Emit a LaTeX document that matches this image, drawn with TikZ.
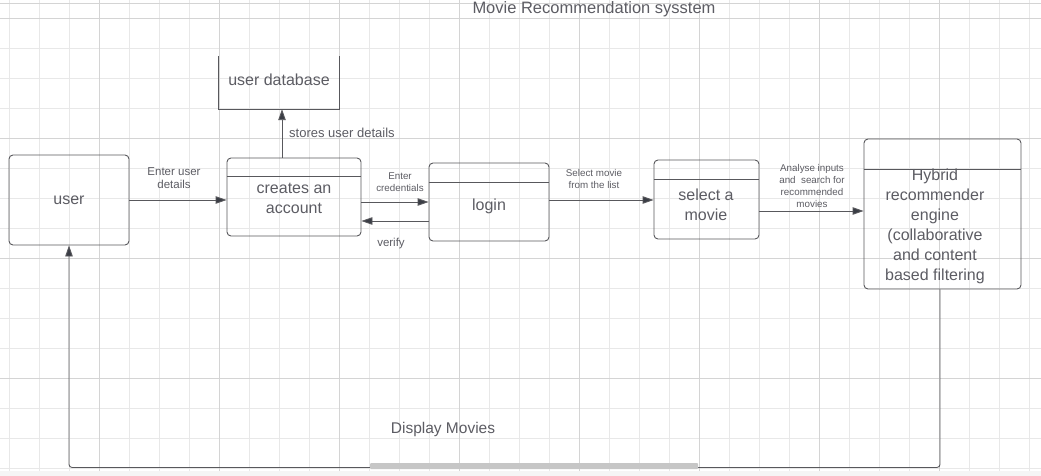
\documentclass[tikz,border=0pt]{standalone}
\usepackage{fontspec}
\setmainfont{Liberation Sans}
\definecolor{GridMinor}{RGB}{232,232,232}
\definecolor{GridMajor}{RGB}{212,212,212}
\definecolor{BoxLine}{RGB}{88,88,92}
\definecolor{TextGray}{RGB}{92,92,99}
\definecolor{TipDark}{RGB}{58,61,69}
\usetikzlibrary{arrows.meta,positioning,calc}
\newcommand{\bigtxt}{\fontsize{16}{20}\selectfont}
\newcommand{\midtxt}{\fontsize{11.5}{13}\selectfont}
\newcommand{\tinytxt}{\fontsize{9.8}{12}\selectfont}
\tikzset{
  boxnode/.style={draw=BoxLine,line width=0.9pt,rounded corners=4pt,inner sep=0pt},
  hdrline/.style={draw=BoxLine,line width=0.9pt},
  flow/.style={draw=BoxLine,line width=0.9pt,-{Triangle[length=11pt,width=7.5pt,fill=TipDark]}},
  lbl/.style={text=TextGray,inner sep=0pt,align=center}
}
\begin{document}
\begin{tikzpicture}[x=1pt,y=-1pt]
\useasboundingbox (0,0) rectangle (1041,476);
% grid
\foreach \x in {9,39,...,1029} \draw[GridMinor,line width=0.6pt] (\x,0) -- (\x,476);
\foreach \y in {18,48,...,468} \draw[GridMinor,line width=0.6pt] (0,\y) -- (1041,\y);
\foreach \x in {99,219,...,939} \draw[GridMajor,line width=0.6pt] (\x,0) -- (\x,476);
\foreach \y in {18,138,258,378} \draw[GridMajor,line width=0.6pt] (0,\y) -- (1041,\y);
\draw[GridMajor,line width=0.6pt] (0,3) -- (1041,3);
% title
\node[lbl,font=\fontsize{16.5}{20}\selectfont] (title) at (594,9) {Movie Recommendation sysstem};
% boxes
\node[boxnode,minimum width=120pt,minimum height=90pt] (user) at (69,200) {};
\node[minimum width=120pt,minimum height=53pt,inner sep=0pt] (db) at (279,82.5) {};
\node[boxnode,minimum width=134pt,minimum height=78pt] (crt) at (294,197) {};
\node[boxnode,minimum width=120pt,minimum height=78pt] (login) at (489,202) {};
\node[boxnode,minimum width=105pt,minimum height=79pt] (sel) at (706.5,199.5) {};
\node[boxnode,minimum width=157pt,minimum height=150pt] (hyb) at (942.5,214) {};
\draw[hdrline] (db.north west) |- (db.south east) -- (db.north east);
\draw[hdrline] ([yshift=-19pt]crt.north west) -- ([yshift=-19pt]crt.north east);
\draw[hdrline] ([yshift=-20pt]login.north west) -- ([yshift=-20pt]login.north east);
\draw[hdrline] ([yshift=-20pt]sel.north west) -- ([yshift=-20pt]sel.north east);
\draw[hdrline] ([yshift=-31pt]hyb.north west) -- ([yshift=-31pt]hyb.north east);
% box texts
\node[lbl,font=\bigtxt] (usertxt) at (user) {user};
\node[lbl,font=\bigtxt] (dbtxt) at (279,80) {user database};
\node[lbl,font=\bigtxt] (crttxt) at (294,198) {creates an\\account};
\node[lbl,font=\bigtxt] (logintxt) at (489,206) {login};
\node[lbl,font=\bigtxt] (seltxt) at (706,205) {select a\\movie};
\node[lbl,font=\bigtxt] (hybtxt) at (935,226) {Hybrid\\recommender\\engine\\(collaborative\\and content\\based filtering};
% connectors
\draw[flow] (user.east) -- (user.east -| crt.west);
\draw[flow] ([xshift=-12pt]crt.north) -- ([xshift=-12pt]crt.north |- db.south);
\draw[flow] ([yshift=-5pt]crt.east) -- ([yshift=-5pt]crt.east -| login.west);
\draw[flow] ([yshift=-19pt]login.west) -- ([yshift=-19pt]login.west -| crt.east);
\draw[flow] ([yshift=2pt]login.east) -- ([yshift=2pt]login.east -| sel.west);
\draw[flow] ([yshift=-11.5pt]sel.east) -- ([yshift=-11.5pt]sel.east -| hyb.west);
\draw[flow,rounded corners=3pt] ([xshift=-2.5pt]hyb.south) -- ++(0,178) -| (user.south);
% connector labels
\node[lbl,font=\midtxt] (l1) at (174,178) {Enter user\\details};
\node[lbl,font=\fontsize{13}{15}\selectfont,anchor=west] (l2) at (289,133) {stores user details};
\node[lbl,font=\tinytxt] (l3) at (400,182) {Enter\\credentials};
\node[lbl,font=\midtxt] (l4) at (391,244) {verify};
\node[lbl,font=\tinytxt] (l5) at (594,178.5) {Select movie\\from the list};
\node[lbl,font=\tinytxt] (l6) at (812,186) {Analyse inputs\\and\ \ search for\\recommended\\movies};
\node[lbl,font=\fontsize{15.5}{18}\selectfont] (l7) at (443,429) {Display Movies};
% scroll bar
\fill[gray!45,rounded corners=1pt] (370,463) rectangle (698,469);
\fill[gray!8] (0,471) rectangle (1041,476);
\end{tikzpicture}
\end{document}
